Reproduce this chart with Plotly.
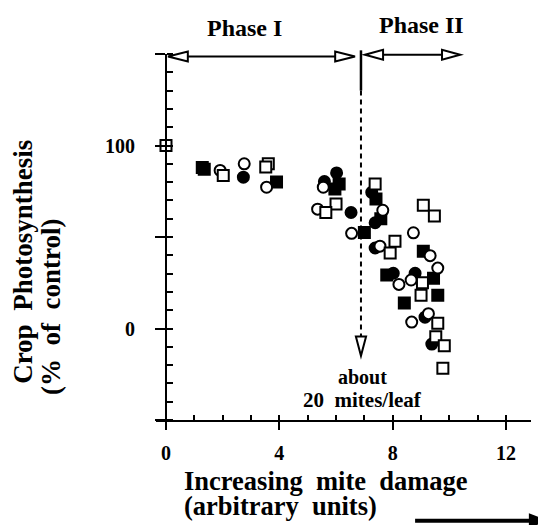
import plotly.graph_objects as go

# ---------------- data ----------------
filled_circle_x = [2.73, 6.02, 5.59, 6.53, 7.26, 7.38, 7.38, 8.02, 8.79, 9.14, 9.38]
filled_circle_y = [82.7, 85.0, 80.3, 63.4, 74.4, 57.8, 44.0, 30.2, 30.2, 6.2, -8.5]

filled_square_x = [1.28, 1.35, 3.90, 6.11, 5.96, 7.00, 7.41, 7.58, 9.08, 7.79, 9.44, 8.41, 9.59]
filled_square_y = [88.0, 87.0, 80.0, 79.0, 76.2, 52.4, 70.7, 60.0, 42.2, 29.3, 27.5, 14.0, 18.2]

open_circle_x = [1.91, 2.76, 3.55, 5.55, 5.35, 6.55, 7.65, 8.73, 7.55, 9.32, 9.59, 8.22, 8.65, 8.67, 9.26]
open_circle_y = [86.4, 90.0, 77.2, 77.2, 65.2, 52.0, 64.6, 52.3, 45.0, 39.8, 33.0, 24.1, 26.5, 3.5, 8.1]

open_square_x = [0.0, 2.02, 3.61, 3.52, 6.00, 5.64, 7.38, 9.08, 9.47, 8.08, 7.91, 9.05, 9.00, 9.59, 9.52, 9.82, 9.77]
open_square_y = [100.0, 83.6, 90.0, 88.2, 68.0, 63.4, 79.0, 67.4, 61.5, 47.7, 41.3, 25.0, 18.2, 2.9, -4.5, -9.4, -21.7]

x_tick_vals = [0, 4, 8, 12]
x_tick_text = ["0", "4", "8", "12"]
y_tick_vals = [-50, 0, 50, 100, 150]
y_tick_text = ["", "0", "", "100", ""]

X_RANGE = [-0.353, 12.88]
Y_RANGE = [-50, 150]

PHASE_BOUNDARY = 6.88
PHASE1 = [0.07, 6.67]
PHASE2 = [7.02, 10.38]

FONT = "Liberation Serif"


def xp(v):
    return (v - X_RANGE[0]) / (X_RANGE[1] - X_RANGE[0])


def yp(v):
    return (v - Y_RANGE[0]) / (Y_RANGE[1] - Y_RANGE[0])


fig = go.Figure()

mk = dict(size=11, line=dict(width=2, color="black"))
fig.add_trace(go.Scatter(x=filled_circle_x, y=filled_circle_y, mode="markers",
                         marker=dict(symbol="circle", color="black", **mk)))
fig.add_trace(go.Scatter(x=filled_square_x, y=filled_square_y, mode="markers",
                         marker=dict(symbol="square", color="black", **mk)))
fig.add_trace(go.Scatter(x=open_circle_x, y=open_circle_y, mode="markers",
                         marker=dict(symbol="circle", color="white", **mk)))
fig.add_trace(go.Scatter(x=open_square_x, y=open_square_y, mode="markers",
                         marker=dict(symbol="square", color="white", **mk)))

shapes = []
LW = 2


def line(x0, y0, x1, y1, width=LW, dash=None):
    d = dict(type="line", xref="paper", yref="paper", x0=xp(x0), y0=yp(y0), x1=xp(x1), y1=yp(y1),
             line=dict(color="black", width=width), layer="below")
    if dash:
        d["line"]["dash"] = dash
    return d


def tri(points, fill="white"):
    path = "M " + " L ".join(f"{xp(a):.5f},{yp(b):.5f}" for a, b in points) + " Z"
    return dict(type="path", xref="paper", yref="paper", path=path, fillcolor=fill,
                line=dict(color="black", width=LW), layer="below")


# phase arrows
HL, HH = 0.70, 2.7
y1 = 148.6
shapes.append(line(PHASE1[0] + HL, y1, PHASE1[1] - HL, y1))
shapes.append(tri([(PHASE1[0], y1), (PHASE1[0] + HL, y1 + HH), (PHASE1[0] + HL, y1 - HH)]))
shapes.append(tri([(PHASE1[1], y1), (PHASE1[1] - HL, y1 + HH), (PHASE1[1] - HL, y1 - HH)]))
y2 = 149.6
HL2 = 0.64
shapes.append(line(PHASE2[0] + HL2, y2, PHASE2[1] - HL2, y2))
shapes.append(tri([(PHASE2[0], y2), (PHASE2[0] + HL2, y2 + HH), (PHASE2[0] + HL2, y2 - HH)]))
shapes.append(tri([(PHASE2[1], y2), (PHASE2[1] - HL2, y2 + HH), (PHASE2[1] - HL2, y2 - HH)]))

# boundary line: solid top, dashed down, open arrowhead
shapes.append(line(PHASE_BOUNDARY, 152, PHASE_BOUNDARY, 130, width=2.5))
shapes.append(line(PHASE_BOUNDARY, 130, PHASE_BOUNDARY, -4.4, width=2, dash="5px,4px"))
shapes.append(tri([(PHASE_BOUNDARY - 0.18, -4.4), (PHASE_BOUNDARY + 0.18, -4.4), (PHASE_BOUNDARY, -14.9)]))

# bottom-right thick arrow
yb = -105.0
shapes.append(line(8.79, yb, 12.9, yb, width=4))
shapes.append(tri([(12.84, yb + 3.2), (13.40, yb), (12.84, yb - 3.2)], fill="black"))


def ann(text, x, y, size, **kw):
    d = dict(text=text, x=x, y=y, xref="paper", yref="paper", showarrow=False,
             xanchor="center", yanchor="middle",
             font=dict(family=FONT, size=size, color="black"))
    d.update(kw)
    return d


annotations = [
    ann("<b>Phase I</b>", xp(2.76), yp(164), 24),
    ann("<b>Phase II</b>", xp(9.0), yp(166), 24),
    ann("<b>about</b>", xp(6.92), yp(-26.5), 20),
    ann("<b>20\u00a0\u00a0mites/leaf</b>", xp(6.92), yp(-39.0), 21),
    ann("<b>Increasing\u00a0\u00a0mite\u00a0\u00a0damage</b>", 0.0693, -0.167, 26.5, xanchor="left"),
    ann("<b>(arbitrary\u00a0\u00a0units)</b>", 0.0693, -0.234, 26.5, xanchor="left"),
    ann("<b>Crop\u00a0\u00a0Photosynthesis</b>", -0.355, 0.4317, 27, textangle=-90),
    ann("<b>(%\u00a0\u00a0of\u00a0\u00a0control)</b>", -0.28, 0.3087, 27, textangle=-90),
]

# the page body adds an 8px offset, so the figure is sized/margined to compensate
fig.update_layout(
    width=538, height=517,
    margin=dict(l=148, r=15, t=46, b=105, autoexpand=False),
    paper_bgcolor="white", plot_bgcolor="rgba(0,0,0,0)",
    showlegend=False,
    shapes=shapes,
    annotations=annotations,
    xaxis=dict(range=X_RANGE, showgrid=False, zeroline=False, showline=True,
               linecolor="black", linewidth=2, automargin=False,
               tickmode="array", tickvals=x_tick_vals, ticktext=x_tick_text,
               ticks="outside", ticklen=8, tickwidth=2, tickcolor="black",
               ticklabelstandoff=6,
               tickfont=dict(family=FONT, size=20, color="black", weight="bold"),
               minor=dict(tickmode="linear", tick0=0, dtick=1, ticks="inside",
                          ticklen=5, tickwidth=2, tickcolor="black", showgrid=False)),
    yaxis=dict(range=Y_RANGE, showgrid=False, zeroline=False, showline=True,
               linecolor="black", linewidth=2, anchor="free", position=xp(0),
               automargin=False,
               tickmode="array", tickvals=y_tick_vals, ticktext=y_tick_text,
               ticks="outside", ticklen=10, tickwidth=2, tickcolor="black",
               ticklabelstandoff=16,
               tickfont=dict(family=FONT, size=20, color="black", weight="bold"),
               minor=dict(tickmode="linear", tick0=0, dtick=10, ticks="inside",
                          ticklen=6, tickwidth=2, tickcolor="black", showgrid=False)),
)

fig.write_html("out.html")
